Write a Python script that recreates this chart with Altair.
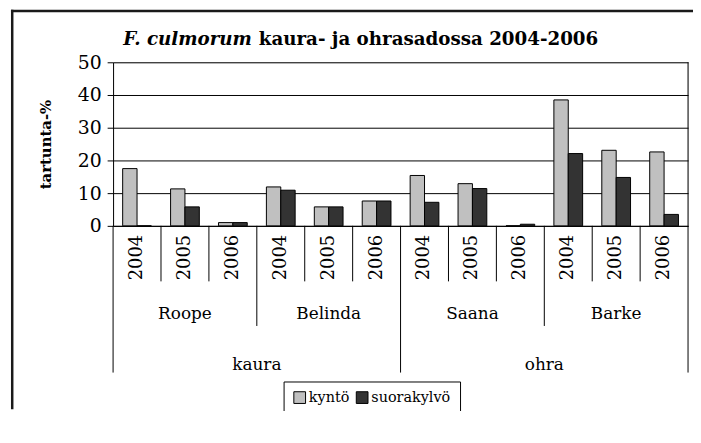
import altair as alt
import pandas as pd

# ---- data ----
varieties = ["Roope", "Belinda", "Saana", "Barke"]
variety_crop = ["kaura", "kaura", "ohra", "ohra"]
years = ["2004", "2005", "2006"]
series = ["kyntö", "suorakylvö"]
kynto = [17.5, 11.3, 1.0, 11.9, 5.8, 7.6, 15.4, 12.9, 0.0, 38.5, 23.1, 22.6]
suora = [0.0, 5.8, 1.0, 10.9, 5.8, 7.6, 7.2, 11.4, 0.5, 22.1, 14.8, 3.5]
colors = ["#C0C0C0", "#333333"]

FONT = "DejaVu Serif"
W, H = 580, 165

rows = []
cats = []
for vi, v in enumerate(varieties):
    for yi, y in enumerate(years):
        i = vi * 3 + yi
        cat = f"{v} {y}"
        cats.append(cat)
        if yi == 0 and (vi == 0 or variety_crop[vi] != variety_crop[vi - 1]):
            level = "crop"
        elif yi == 0:
            level = "variety"
        else:
            level = "year"
        for s, vals in zip(series, [kynto, suora]):
            rows.append(dict(cat=cat, variety=v, crop=variety_crop[vi], year=y,
                             series=s, value=vals[i], level=level,
                             first=(s == series[0])))
df = pd.DataFrame(rows)
labels_df = df[df["first"]]

xscale = alt.Scale(domain=cats, paddingInner=0, paddingOuter=0)
base = alt.Chart(df)

bars = base.mark_bar(stroke="black", strokeWidth=1).encode(
    x=alt.X("cat:N", scale=xscale, sort=cats,
            axis=alt.Axis(labels=False, ticks=False, title=None, domain=True,
                          domainColor="black", grid=False)),
    xOffset=alt.XOffset("series:N", sort=series,
                        scale=alt.Scale(domain=series, paddingInner=0, paddingOuter=0.667)),
    y=alt.Y("value:Q", scale=alt.Scale(domain=[0, 50], nice=False),
            axis=alt.Axis(values=[0, 10, 20, 30, 40, 50], title="tartunta-%",
                          grid=True, gridColor="black", gridOpacity=1, gridWidth=1,
                          tickColor="black", tickSize=6, domainColor="black",
                          labelFont=FONT, labelFontSize=19, labelColor="black",
                          labelPadding=6, titleFont=FONT, titleFontSize=15,
                          titleFontWeight="bold", titleColor="black",
                          titlePadding=24)),
    color=alt.Color("series:N", sort=series,
                    scale=alt.Scale(domain=series, range=colors),
                    legend=alt.Legend(title=None, orient="none", legendX=172, legendY=322,
                                      direction="horizontal", strokeColor="black",
                                      fillColor="white", padding=9, gridAlign="none",
                                      symbolType="square", symbolSize=140,
                                      symbolStrokeColor="black", symbolStrokeWidth=1,
                                      labelFont=FONT, labelFontSize=14.5, labelColor="black",
                                      labelOffset=2, columnPadding=4, symbolOpacity=1)),
)

lab = alt.Chart(labels_df)

def sep(level, length):
    return lab.transform_filter(alt.datum.level == level).mark_rule(
        color="black", strokeWidth=1).encode(
        x=alt.X("cat:N", scale=xscale, sort=cats, bandPosition=0),
        y=alt.value(H), y2=alt.value(H + length))

sep_year = sep("year", 56)
sep_var = sep("variety", 101)
sep_crop = sep("crop", 148)
# right edge of the plot area continuing down as the last category separator
sep_end = lab.transform_filter(alt.datum.cat == cats[-1]).mark_rule(
    color="black", strokeWidth=1).encode(
    x=alt.X("cat:N", scale=xscale, sort=cats, bandPosition=1),
    y=alt.value(0), y2=alt.value(H + 148))

year_text = lab.mark_text(font=FONT, fontSize=18, angle=270, align="center",
                          baseline="middle", color="black").encode(
    x=alt.X("cat:N", scale=xscale, sort=cats, bandPosition=0.5),
    y=alt.value(H + 32), text="year:N")

var_text = lab.transform_filter(alt.datum.year == years[1]).mark_text(
    font=FONT, fontSize=17, align="center", baseline="middle", color="black").encode(
    x=alt.X("cat:N", scale=xscale, sort=cats, bandPosition=0.5),
    y=alt.value(H + 89), text="variety:N")

crop_mid = [f"{varieties[i]} {years[0]}" for i in range(len(varieties))
            if i > 0 and variety_crop[i] == variety_crop[i - 1]]
crop_text = lab.transform_filter(
    alt.FieldOneOfPredicate(field="cat", oneOf=crop_mid)).mark_text(
    font=FONT, fontSize=17, align="center", baseline="middle", color="black").encode(
    x=alt.X("cat:N", scale=xscale, sort=cats, bandPosition=0),
    y=alt.value(H + 140), text="crop:N")

title1 = alt.Chart(pd.DataFrame({"t": ["F. culmorum"]})).mark_text(
    font=FONT, fontSize=18.4, fontWeight="bold", fontStyle="italic", align="right",
    baseline="middle", color="black").encode(
    x=alt.value(140), y=alt.value(-23), text="t:N")
title2 = alt.Chart(pd.DataFrame({"t": ["kaura- ja ohrasadossa  2004-2006"]})).mark_text(
    font=FONT, fontSize=18.4, fontWeight="bold", align="left",
    baseline="middle", color="black").encode(
    x=alt.value(147), y=alt.value(-23), text="t:N")

# outer chart frame: top and left edges only, drawn as thin filled strips
frame_left = alt.Chart(pd.DataFrame({"a": [0]})).mark_rect(
    fill="#1a1a1a", strokeWidth=0).encode(
    x=alt.value(-103), x2=alt.value(-100.5), y=alt.value(-53), y2=alt.value(H + 185))
frame_top = alt.Chart(pd.DataFrame({"a": [0]})).mark_rect(
    fill="#1a1a1a", strokeWidth=0).encode(
    x=alt.value(-103), x2=alt.value(W + 5), y=alt.value(-53), y2=alt.value(-50.5))

chart = alt.layer(
    frame_left, frame_top, bars, sep_year, sep_var, sep_crop, sep_end,
    year_text, var_text, crop_text, title1, title2
).properties(
    width=W, height=H,
    autosize=alt.AutoSizeParams(type="none"),
    padding={"left": 106, "top": 53, "right": 5, "bottom": 185},
).configure_view(stroke="transparent").configure(background="white")

chart.save("out.html", embed_options={"renderer": "svg", "actions": False})
